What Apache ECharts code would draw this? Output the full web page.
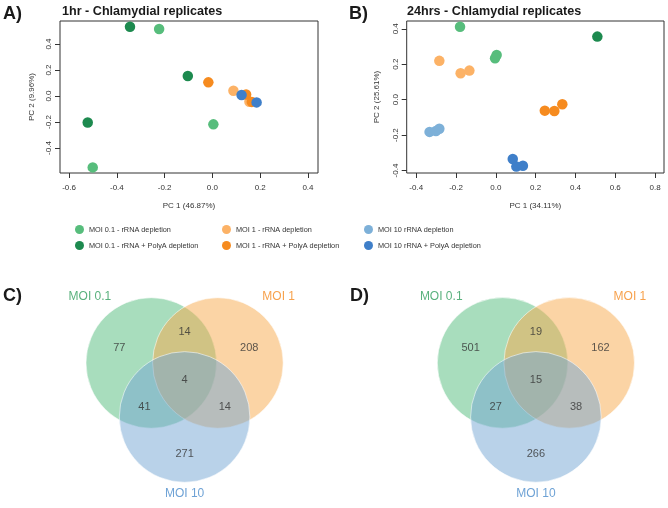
<!DOCTYPE html>
<html>
<head>
<meta charset="utf-8">
<script src="https://cdn.jsdelivr.net/npm/echarts@6/dist/echarts.min.js"></script>
<style>html,body{margin:0;padding:0;background:#fff}#c{width:668px;height:508px}</style>
</head>
<body>
<div id="c"></div>
<script>
// ---------- data ----------
const categories = [
  'MOI 0.1 - rRNA depletion',
  'MOI 0.1 - rRNA + PolyA depletion',
  'MOI 1 - rRNA depletion',
  'MOI 1 - rRNA + PolyA depletion',
  'MOI 10 rRNA depletion',
  'MOI 10 rRNA + PolyA depletion'
];
// 1hr PCA (PC1, PC2)
const hr1_moi01_rRNA  = [[-0.223, 0.515], [0.004, -0.218], [-0.501, -0.549]];
const hr1_moi01_polyA = [[-0.345, 0.533], [-0.103, 0.154], [-0.522, -0.203]];
const hr1_moi1_rRNA   = [[0.088, 0.041], [0.155, -0.044]];
const hr1_moi1_polyA  = [[-0.017, 0.105], [0.141, 0.012], [0.165, -0.045]];
const hr1_moi10_rRNA  = [];
const hr1_moi10_polyA = [[0.122, 0.008], [0.185, -0.049]];
// 24hrs PCA (PC1, PC2)
const hr24_moi01_rRNA  = [[-0.180, 0.412], [0.004, 0.252], [-0.004, 0.234]];
const hr24_moi01_polyA = [[0.510, 0.356]];
const hr24_moi1_rRNA   = [[-0.284, 0.219], [-0.177, 0.149], [-0.133, 0.164]];
const hr24_moi1_polyA  = [[0.246, -0.062], [0.294, -0.064], [0.334, -0.026]];
const hr24_moi10_rRNA  = [[-0.333, -0.182], [-0.301, -0.177], [-0.284, -0.164]];
const hr24_moi10_polyA = [[0.085, -0.335], [0.103, -0.378], [0.136, -0.373]];

const xTicksA = [-0.6, -0.4, -0.2, 0.0, 0.2, 0.4];
const yTicksA = [-0.4, -0.2, 0.0, 0.2, 0.4];
const xTicksB = [-0.4, -0.2, 0.0, 0.2, 0.4, 0.6, 0.8];
const yTicksB = [-0.4, -0.2, 0.0, 0.2, 0.4];

// Venn
const vennSets = ['MOI 0.1', 'MOI 1', 'MOI 10'];
const vennRegions = ['0.1 only', '0.1 & 1', '1 only', 'all', '0.1 & 10', '1 & 10', '10 only'];
const venn1hr  = [77, 14, 208, 4, 41, 14, 271];
const venn24hr = [501, 19, 162, 15, 27, 38, 266];

// ---------- layout / style ----------
const colors = ['#57bd7c', '#1d8a4f', '#fcb266', '#f68b1f', '#7db0d8', '#3f7fc9'];
const vennFill = ['rgba(82,188,124,0.5)', 'rgba(248,170,76,0.5)', 'rgba(116,166,212,0.5)'];
const vennLabelColor = ['#2f9d5c', '#f5891f', '#4a8bcb'];
// circle centres & label anchors in layout units (1 unit = circle radius)
const vennCentres = [[-0.51, 0.283], [0.51, 0.283], [0, -0.567]];
const vennRegionPos = [[-1.0, 0.513], [0, 0.773], [0.99, 0.513], [0, 0.018], [-0.615, -0.417], [0.615, -0.417], [0, -1.145]];
const vennSetPos = [[-1.45, 1.325], [1.44, 1.325], [0, -1.77]];
const R = 65.3;
const FONT = 'Liberation Sans, Arial, Helvetica, sans-serif';

function pcaAxes(gridIndex, xmin, xmax, ymin, ymax, xt, yt, xname, yname, yGap) {
  return {
    x: {
      type: 'value', gridIndex, min: xmin, max: xmax, name: xname, position: 'bottom',
      nameLocation: 'middle', nameGap: 29,
      nameTextStyle: {fontFamily: FONT, fontSize: 8, color: '#333'},
      axisLine: {show: false, onZero: false}, splitLine: {show: false},
      axisTick: {show: true, inside: false, length: 5, customValues: xt, lineStyle: {color: '#333'}},
      axisLabel: {customValues: xt, margin: 11, fontFamily: FONT, fontSize: 8, color: '#333',
        formatter: v => v.toFixed(1)}
    },
    y: {
      type: 'value', gridIndex, min: ymin, max: ymax, name: yname, position: 'left',
      nameLocation: 'middle', nameGap: yGap, nameRotate: 90,
      nameTextStyle: {fontFamily: FONT, fontSize: 8, color: '#333'},
      axisLine: {show: false, onZero: false}, splitLine: {show: false},
      axisTick: {show: true, inside: false, length: 5, customValues: yt, lineStyle: {color: '#333'}},
      axisLabel: {customValues: yt, margin: 7, rotate: 90, fontFamily: FONT, fontSize: 8, color: '#333',
        formatter: v => v.toFixed(1)}
    }
  };
}
const axA = pcaAxes(0, -0.638, 0.442, -0.592, 0.577, xTicksA, yTicksA, 'PC 1 (46.87%)', 'PC 2 (9.96%)', 24);
const axB = pcaAxes(1, -0.448, 0.845, -0.414, 0.444, xTicksB, yTicksB, 'PC 1 (34.11%)', 'PC 2 (25.61%)', 26);
const vennAxis = (gi) => ({type: 'value', gridIndex: gi, min: -2, max: 2, show: false});

const hr1 = [hr1_moi01_rRNA, hr1_moi01_polyA, hr1_moi1_rRNA, hr1_moi1_polyA, hr1_moi10_rRNA, hr1_moi10_polyA];
const hr24 = [hr24_moi01_rRNA, hr24_moi01_polyA, hr24_moi1_rRNA, hr24_moi1_polyA, hr24_moi10_rRNA, hr24_moi10_polyA];

const series = [];
[hr1, hr24].forEach((set, gi) => {
  set.forEach((pts, i) => {
    series.push({
      type: 'scatter', name: categories[i], xAxisIndex: gi, yAxisIndex: gi,
      data: pts, symbol: 'circle', symbolSize: 10.5,
      itemStyle: {color: colors[i], opacity: 1}, emphasis: {disabled: true}, z: 2
    });
  });
});

[venn1hr, venn24hr].forEach((counts, k) => {
  const gi = 2 + k;
  series.push({
    type: 'scatter', xAxisIndex: gi, yAxisIndex: gi, silent: true,
    symbol: 'circle', symbolSize: 2 * R,
    data: vennCentres.map((c, i) => ({value: c, name: vennSets[i],
      itemStyle: {color: vennFill[i], borderColor: 'rgba(255,255,255,0.55)', borderWidth: 1, opacity: 1}})),
    z: 1
  });
  series.push({
    type: 'scatter', xAxisIndex: gi, yAxisIndex: gi, silent: true, symbolSize: 0,
    data: vennRegionPos.map((p, i) => ({value: p, name: vennRegions[i]})),
    label: {show: true, position: 'inside', formatter: p => String(counts[p.dataIndex]),
      fontFamily: FONT, fontSize: 11, color: '#333'},
    z: 3
  });
  series.push({
    type: 'scatter', xAxisIndex: gi, yAxisIndex: gi, silent: true, symbolSize: 0,
    data: vennSetPos.map((p, i) => ({value: p, name: vennSets[i],
      label: {color: vennLabelColor[i]}})),
    label: {show: true, position: 'inside', formatter: p => vennSets[p.dataIndex],
      fontFamily: FONT, fontSize: 12},
    z: 3
  });
});

const legendBase = {orient: 'vertical', top: 220, itemWidth: 9, itemHeight: 9, itemGap: 7,
  icon: 'circle', selectedMode: false,
  textStyle: {fontFamily: FONT, fontSize: 7.3, color: '#333', padding: [0, 0, 0, 0]}};

const titleStyle = (t, left, top, size) => ({text: t, left, top,
  textStyle: {fontFamily: FONT, fontWeight: 'bold', fontSize: size, color: '#1a1a1a'}, padding: 0});

const option = {
  backgroundColor: '#fff',
  animation: false,
  title: [
    titleStyle('A)', 3, 5, 18),
    titleStyle('1hr - Chlamydial replicates', 62, 5, 12.6),
    titleStyle('B)', 349, 5, 18),
    titleStyle('24hrs - Chlamydial replicates', 407, 5, 12.6),
    titleStyle('C)', 3, 287, 18),
    titleStyle('D)', 350, 287, 18)
  ],
  legend: [
    Object.assign({}, legendBase, {left: 70, data: categories.slice(0, 2)}),
    Object.assign({}, legendBase, {left: 217, data: categories.slice(2, 4)}),
    Object.assign({}, legendBase, {left: 359, data: categories.slice(4, 6)})
  ],
  grid: [
    {left: 60, top: 21, width: 258, height: 152, show: true, borderColor: '#333', borderWidth: 1, backgroundColor: 'transparent'},
    {left: 406.7, top: 21, width: 257.3, height: 152, show: true, borderColor: '#333', borderWidth: 1, backgroundColor: 'transparent'},
    {left: 184.6 - 2 * R, top: 384.5 - 2 * R, width: 4 * R, height: 4 * R},
    {left: 535.9 - 2 * R, top: 384.4 - 2 * R, width: 4 * R, height: 4 * R}
  ],
  xAxis: [axA.x, axB.x, vennAxis(2), vennAxis(3)],
  yAxis: [axA.y, axB.y, vennAxis(2), vennAxis(3)],
  series
};

const chart = echarts.init(document.getElementById('c'), null, {renderer: 'canvas'});
chart.setOption(option);
</script>
</body>
</html>
